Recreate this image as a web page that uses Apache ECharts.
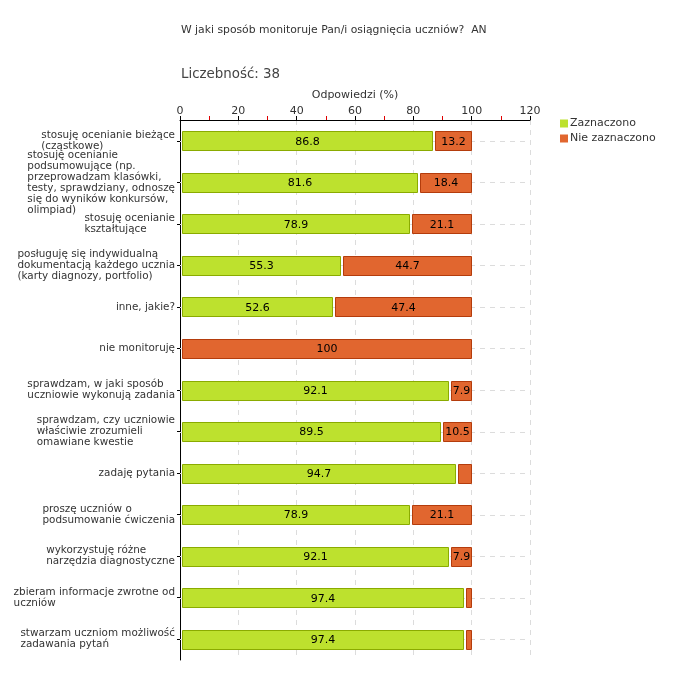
<!DOCTYPE html>
<html><head><meta charset="utf-8">
<script src="https://cdn.jsdelivr.net/npm/echarts@6/dist/echarts.min.js"></script>
<style>html,body{margin:0;padding:0;background:#fff}#c{width:680px;height:680px}</style>
</head><body><div id="c"></div>
<script>
var categories = [
  "stosuję ocenianie bieżące\n(cząstkowe)",
  "stosuję ocenianie\npodsumowujące (np.\nprzeprowadzam klasówki,\ntesty, sprawdziany, odnoszę\nsię do wyników konkursów,\nolimpiad)",
  "stosuję ocenianie\nkształtujące",
  "posługuję się indywidualną\ndokumentacją każdego ucznia\n(karty diagnozy, portfolio)",
  "inne, jakie?",
  "nie monitoruję",
  "sprawdzam, w jaki sposób\nuczniowie wykonują zadania",
  "sprawdzam, czy uczniowie\nwłaściwie zrozumieli\nomawiane kwestie",
  "zadaję pytania",
  "proszę uczniów o\npodsumowanie ćwiczenia",
  "wykorzystuję różne\nnarzędzia diagnostyczne",
  "zbieram informacje zwrotne od\nuczniów",
  "stwarzam uczniom możliwość\nzadawania pytań"
];
var zaznaczono = [86.8, 81.6, 78.9, 55.3, 52.6, 0, 92.1, 89.5, 94.7, 78.9, 92.1, 97.4, 97.4];
var nieZaznaczono = [13.2, 18.4, 21.1, 44.7, 47.4, 100, 7.9, 10.5, 5.3, 21.1, 7.9, 2.6, 2.6];
var xTicks = [0, 20, 40, 60, 80, 100, 120];

var FONT = 'DejaVu Sans';
var GREEN = '#bde12e', GREEN_B = '#8aab00';
var ORANGE = '#e1662f', ORANGE_B = '#b43c0c';

function makeData(startArr, vals) {
  return vals.map(function (v, i) { return [i, startArr ? startArr[i] : 0, (startArr ? startArr[i] : 0) + v, v]; });
}
function renderer(fill, stroke) {
  return function (params, api) {
    var cat = api.value(0), s = api.value(1), e = api.value(2), v = api.value(3);
    if (!(v > 0)) return;
    var p0 = api.coord([s, cat]), p1 = api.coord([e, cat]);
    var h = Math.round(api.size([0, 1])[1] * 0.46);
    var x0 = Math.round(p0[0]) + 2.5;
    var x1 = Math.round(p1[0]) - 0.5;
    var y0 = Math.round(p0[1] - h / 2) + 0.5;
    var children = [{
      type: 'rect',
      shape: { x: x0, y: y0, width: x1 - x0, height: h },
      style: { fill: fill, stroke: stroke, lineWidth: 1 }
    }];
    if (v >= 7) {
      children.push({
        type: 'text',
        style: { text: String(v), x: (x0 + x1) / 2, y: p0[1] + 1, align: 'center', verticalAlign: 'middle',
                 font: '11px "' + FONT + '"', fill: '#000' }
      });
    }
    return { type: 'group', children: children };
  };
}
function gridLineRenderer(params, api) {
  var cat = api.value(0);
  var a = api.coord([xTicks[0], cat]), b = api.coord([xTicks[xTicks.length - 1], cat]);
  var y = Math.round(a[1]) + 0.5;
  return {
    type: 'line',
    shape: { x1: a[0], y1: y, x2: b[0], y2: y },
    style: { stroke: '#dcdcdc', lineWidth: 1, lineDash: [5, 5] }
  };
}

var chart = echarts.init(document.getElementById('c'));
chart.setOption({
  animation: false,
  textStyle: { fontFamily: FONT },
  title: [
    { text: 'W jaki sposób monitoruje Pan/i osiągnięcia uczniów?  AN', left: 181, top: 25, padding: 0,
      textStyle: { fontSize: 10.8, fontWeight: 'normal', color: '#333', fontFamily: FONT } },
    { text: 'Liczebność: 38', left: 181, top: 68, padding: 0,
      textStyle: { fontSize: 13.4, fontWeight: 'normal', color: '#444', fontFamily: FONT } }
  ],
  legend: {
    left: 555, top: 113, orient: 'vertical', itemGap: 4, itemWidth: 8, itemHeight: 8, icon: 'rect',
    textStyle: { fontSize: 11, color: '#333', fontFamily: FONT, padding: [0, 0, 0, -3] },
    data: ['Zaznaczono', 'Nie zaznaczono']
  },
  grid: { left: 180, right: 150, top: 120, bottom: 20 },
  xAxis: {
    type: 'value', position: 'top', min: xTicks[0], max: xTicks[xTicks.length - 1], interval: 20,
    name: 'Odpowiedzi (%)', nameLocation: 'middle', nameGap: 17,
    nameTextStyle: { fontSize: 11, color: '#333', fontFamily: FONT },
    axisLine: { show: true, lineStyle: { color: '#000', width: 1 } },
    axisTick: { show: true, length: 4, lineStyle: { color: '#000' } },
    minorTick: { show: true, splitNumber: 2, length: 4, lineStyle: { color: '#e00000' } },
    axisLabel: { fontSize: 11, color: '#333', margin: 3, fontFamily: FONT },
    splitLine: { show: true, lineStyle: { color: '#dcdcdc', type: [5, 5] } }
  },
  yAxis: {
    type: 'category', inverse: true, data: categories,
    axisLine: { show: true, lineStyle: { color: '#000', width: 1 } },
    axisTick: { show: true, alignWithLabel: true, length: 3, lineStyle: { color: '#000' } },
    axisLabel: {
      margin: 5, color: '#333', fontSize: 10.4, fontFamily: FONT, interval: 0,
      formatter: function (val) {
        return val.split('\n').map(function (l) { return '{a|' + l + '}'; }).join('\n');
      },
      rich: { a: { align: 'left', fontSize: 10.4, lineHeight: 11, color: '#333', fontFamily: FONT } }
    },
    splitLine: { show: false }
  },
  series: [
    {
      name: 'gridlines', type: 'custom', z: 1, silent: true,
      renderItem: gridLineRenderer, encode: { y: 0 },
      data: categories.map(function (c, i) { return [i]; })
    },
    {
      name: 'Zaznaczono', type: 'custom', itemStyle: { color: GREEN, borderColor: GREEN_B },
      renderItem: renderer(GREEN, GREEN_B), encode: { x: [1, 2], y: 0 },
      data: makeData(null, zaznaczono), z: 3
    },
    {
      name: 'Nie zaznaczono', type: 'custom', itemStyle: { color: ORANGE, borderColor: ORANGE_B },
      renderItem: renderer(ORANGE, ORANGE_B), encode: { x: [1, 2], y: 0 },
      data: makeData(zaznaczono, nieZaznaczono), z: 3
    }
  ]
});
</script></body></html>
